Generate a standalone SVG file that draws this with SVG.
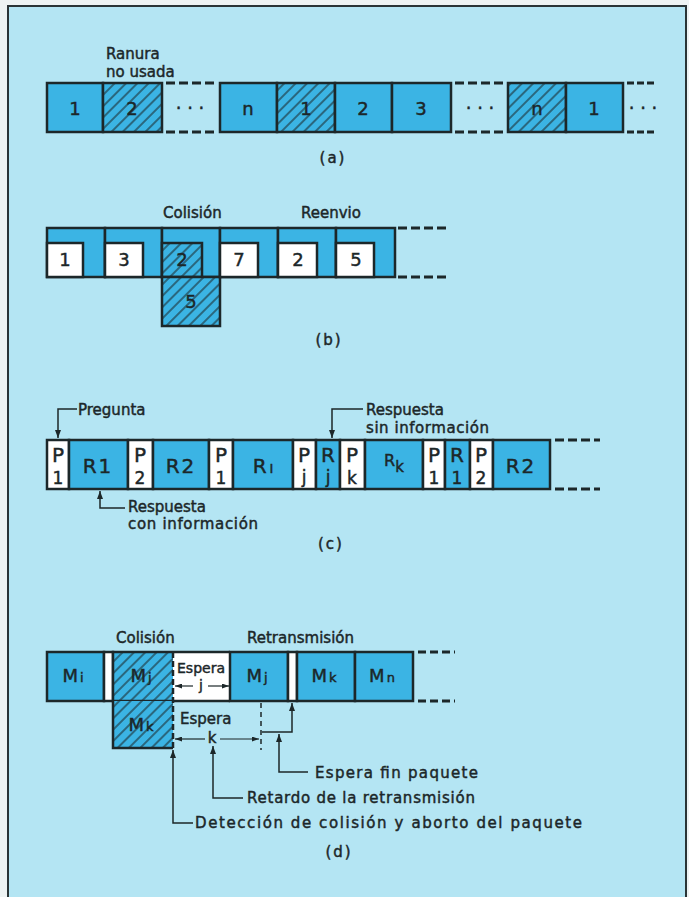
<svg xmlns="http://www.w3.org/2000/svg" width="689" height="897" viewBox="0 0 689 897">
<defs>
<style>
.b{fill:#3bb4e4;stroke:#1c2729;stroke-width:2.5}
.h{fill:url(#hatch);stroke:#1c2729;stroke-width:2.5}
.hf{fill:url(#hatch);stroke:none}
.w{fill:#fff;stroke:#1c2729;stroke-width:2.5}
.wf{fill:#fff;stroke:none}
.ln{fill:none;stroke:#1c2729;stroke-width:2.5}
.dl{fill:none;stroke:#1c2729;stroke-width:2.5;stroke-dasharray:6 3}
.dash{fill:none;stroke:#1c2729;stroke-width:3;stroke-dasharray:9 4}
.dash3{fill:none;stroke:#1c2729;stroke-width:3;stroke-dasharray:7 3}
.con{fill:none;stroke:#1c2729;stroke-width:1.5}
.arr{marker-end:url(#ah)}
.sarr{fill:none;stroke:#1c2729;stroke-width:1.2;marker-end:url(#sah)}
.thin{fill:none;stroke:#1c2729;stroke-width:1.5;stroke-dasharray:5 4}
text{font-family:"DejaVu Sans","Liberation Sans",sans-serif;fill:#1c2729;stroke:#1c2729;stroke-width:0.45}
.lb{font-size:15px}
.num{font-size:18px;text-anchor:middle}
.big{font-size:20px;text-anchor:middle}
.m{font-size:18px;text-anchor:middle}
.lo{font-size:17px;text-anchor:middle}
.sub{font-size:13px}
.cap{font-size:15px;text-anchor:middle;letter-spacing:2px}
</style>
<pattern id="hatch" width="8" height="8" patternUnits="userSpaceOnUse" patternTransform="rotate(45)">
<rect width="8" height="8" fill="#3bb4e4"/>
<line x1="4" y1="0" x2="4" y2="8" stroke="#1c2729" stroke-width="1.1"/>
</pattern>
<marker id="ah" viewBox="0 0 8 6" refX="8" refY="3" markerWidth="8" markerHeight="6" markerUnits="userSpaceOnUse" orient="auto">
<path d="M0,0 L8,3 L0,6 z" fill="#1c2729"/>
</marker>
<marker id="sah" viewBox="0 0 7 5" refX="7" refY="2.5" markerWidth="7" markerHeight="5" markerUnits="userSpaceOnUse" orient="auto">
<path d="M0,0 L7,2.5 L0,5 z" fill="#1c2729"/>
</marker>
</defs>

<rect x="0" y="0" width="689" height="897" fill="#eef3f3"/>
<rect x="8" y="6" width="678" height="900" fill="#b4e5f3" stroke="#2a3436" stroke-width="2"/>

<!-- (a) -->
<g id="a-labels">
<text class="lb" x="106" y="59">Ranura</text>
<text class="lb" x="106" y="77">no usada</text>
<text class="cap" x="333" y="163">(a)</text>
</g>
<g id="a1"><rect class="b" x="47" y="83" width="56" height="49"/><text class="num" x="75" y="115">1</text></g>
<g id="a2"><rect class="h" x="103" y="83" width="59" height="49"/><text class="num" x="132" y="115">2</text></g>
<g id="a-gap1"><text class="num" x="190" y="114">· · ·</text></g>
<g id="a3"><rect class="b" x="220" y="83" width="57" height="49"/><text class="num" x="248" y="115">n</text></g>
<g id="a4"><rect class="h" x="277" y="83" width="58" height="49"/><text class="num" x="306" y="115">1</text></g>
<g id="a5"><rect class="b" x="335" y="83" width="57" height="49"/><text class="num" x="363" y="115">2</text></g>
<g id="a6"><rect class="b" x="392" y="83" width="59" height="49"/><text class="num" x="421" y="115">3</text></g>
<g id="a-gap2"><text class="num" x="480" y="114">· · ·</text></g>
<g id="a7"><rect class="h" x="508" y="83" width="58" height="49"/><text class="num" x="537" y="115">n</text></g>
<g id="a8"><rect class="b" x="566" y="83" width="57" height="49"/><text class="num" x="594" y="115">1</text></g>
<g id="a-gap3"><text class="num" x="643" y="114">· · ·</text></g>

<!-- (b) -->
<g id="b-labels">
<text class="lb" x="163" y="218">Colisión</text>
<text class="lb" x="301" y="218">Reenvio</text>
<text class="cap" x="329" y="345">(b)</text>
</g>
<g id="b1"><rect class="b" x="47" y="228" width="58" height="49"/><rect class="w" x="47" y="243" width="36" height="34"/><text class="num" x="65" y="266">1</text></g>
<g id="b2"><rect class="b" x="105" y="228" width="57" height="49"/><rect class="w" x="105" y="243" width="38" height="34"/><text class="num" x="124" y="266">3</text></g>
<g id="b3"><rect class="b" x="162" y="228" width="58" height="49"/><rect class="h" x="162" y="243" width="40" height="34"/><text class="num" x="182" y="266">2</text></g>
<g id="b3c"><rect class="h" x="162" y="277" width="58" height="49"/><text class="num" x="191" y="308">5</text></g>
<g id="b4"><rect class="b" x="220" y="228" width="58" height="49"/><rect class="w" x="220" y="243" width="38" height="34"/><text class="num" x="239" y="266">7</text></g>
<g id="b5"><rect class="b" x="278" y="228" width="58" height="49"/><rect class="w" x="278" y="243" width="39" height="34"/><text class="num" x="298" y="266">2</text></g>
<g id="b6"><rect class="b" x="336" y="228" width="59" height="49"/><rect class="w" x="336" y="243" width="38" height="34"/><text class="num" x="356" y="266">5</text></g>

<!-- (c) -->
<g id="c-labels">
<text class="lb" x="78" y="415">Pregunta</text>
<text class="lb" x="128" y="512">Respuesta</text>
<text class="lb" x="128" y="529" textLength="130" lengthAdjust="spacing">con información</text>
<text class="lb" x="366" y="415">Respuesta</text>
<text class="lb" x="366" y="433" textLength="123" lengthAdjust="spacing">sin información</text>
<text class="cap" x="331" y="549">(c)</text>
</g>
<g id="c1"><rect class="w" x="47" y="440" width="22" height="49"/><text class="big" x="58" y="462">P</text><text class="lo" x="58" y="484">1</text></g>
<g id="c2"><rect class="b" x="69" y="440" width="59" height="49"/><text class="big" x="98" y="473" letter-spacing="2">R1</text></g>
<g id="c3"><rect class="w" x="128" y="440" width="25" height="49"/><text class="big" x="140" y="462">P</text><text class="lo" x="140" y="484">2</text></g>
<g id="c4"><rect class="b" x="153" y="440" width="56" height="49"/><text class="big" x="181" y="473" letter-spacing="2">R2</text></g>
<g id="c5"><rect class="w" x="209" y="440" width="24" height="49"/><text class="big" x="221" y="462">P</text><text class="lo" x="221" y="484">1</text></g>
<g id="c6"><rect class="b" x="233" y="440" width="60" height="49"/><text class="big" x="263" y="473">R<tspan class="sub" dx="3">I</tspan></text></g>
<g id="c7"><rect class="w" x="293" y="440" width="23" height="49"/><text class="big" x="304" y="462">P</text><text class="lo" x="304" y="483">j</text></g>
<g id="c8"><rect class="b" x="316" y="440" width="24" height="49"/><text class="big" x="328" y="462">R</text><text class="lo" x="328" y="483">j</text></g>
<g id="c9"><rect class="w" x="340" y="440" width="25" height="49"/><text class="big" x="352" y="462">P</text><text class="lo" x="352" y="484">k</text></g>
<g id="c10"><rect class="b" x="365" y="440" width="58" height="49"/><text x="394" y="466" font-size="16" text-anchor="middle">R<tspan font-size="15" dy="6">k</tspan></text></g>
<g id="c11"><rect class="w" x="423" y="440" width="22" height="49"/><text class="big" x="434" y="462">P</text><text class="lo" x="434" y="484">1</text></g>
<g id="c12"><rect class="b" x="445" y="440" width="25" height="49"/><text class="big" x="457" y="462">R</text><text class="lo" x="457" y="484">1</text></g>
<g id="c13"><rect class="w" x="470" y="440" width="23" height="49"/><text class="big" x="481" y="462">P</text><text class="lo" x="481" y="484">2</text></g>
<g id="c14"><rect class="b" x="493" y="440" width="57" height="49"/><text class="big" x="521" y="473" letter-spacing="2">R2</text></g>

<!-- (d) -->
<g id="d-labels">
<text class="lb" x="116" y="643">Colisión</text>
<text class="lb" x="247" y="643">Retransmisión</text>
<text class="lb" x="180" y="724">Espera</text>
<text class="lb" x="212" y="743" text-anchor="middle">k</text>
<text class="lb" x="315" y="778" textLength="163" lengthAdjust="spacing">Espera fin paquete</text>
<text class="lb" x="247" y="803" textLength="228" lengthAdjust="spacing">Retardo de la retransmisión</text>
<text class="lb" x="195" y="828" textLength="387" lengthAdjust="spacing">Detección de colisión y aborto del paquete</text>
<text class="cap" x="339" y="857">(d)</text>
</g>
<g id="d1"><rect class="b" x="47" y="652" width="57" height="49"/><text class="m" x="73" y="682">M<tspan class="sub" dx="2">i</tspan></text></g>
<g id="d2"><rect class="w" x="104" y="652" width="9" height="49"/></g>
<g id="d3"><rect class="hf" x="113" y="652" width="60" height="49"/><path class="ln" d="M173,652H113V701H173"/><text class="m" x="141" y="682">M<tspan class="sub" dx="2">j</tspan></text></g>
<g id="d4"><rect class="hf" x="113" y="701" width="60" height="47"/><path class="ln" d="M113,701V748H173"/><text class="m" x="141" y="731">M<tspan class="sub" dx="2">k</tspan></text></g>
<g id="d5"><rect class="wf" x="173" y="652" width="57" height="49"/><path class="ln" d="M173,652H230M173,701H230"/><text x="177" y="673" font-size="14">Espera</text><text x="201" y="690" font-size="14" text-anchor="middle">j</text></g>
<g id="d6"><rect class="b" x="230" y="652" width="58" height="49"/><text class="m" x="257" y="682">M<tspan class="sub" dx="2">j</tspan></text></g>
<g id="d7"><rect class="w" x="288" y="652" width="9" height="49"/></g>
<g id="d8"><rect class="b" x="297" y="652" width="58" height="49"/><text class="m" x="324" y="682">M<tspan class="sub" dx="2">k</tspan></text></g>
<g id="d9"><rect class="b" x="355" y="652" width="58" height="49"/><text class="m" x="382" y="682">M<tspan class="sub" dx="2">n</tspan></text></g>
<path id="d-colline" class="dl" d="M173,652V748"/>

<!-- connectors -->
<g id="connectors">
<path class="dash" d="M166,83H216M166,132H216"/>
<path class="dash" d="M455,83H505M455,132H505"/>
<path class="dash3" d="M627,83H655M627,132H655"/>
<path class="dash" d="M398,228H446M398,277H446"/>
<path class="dash" d="M555,440H600M555,489H600"/>
<path class="dash" d="M418,652H455M418,701H455" style="stroke-dasharray:8 4"/>

<path class="con arr" d="M77,409H58V438"/>
<path class="con arr" d="M125,508H100V491"/>
<path class="con arr" d="M363,409H332V438"/>

<path class="sarr" d="M193,686H175"/>
<path class="sarr" d="M208,686H229"/>
<path class="sarr" d="M205,739H175"/>
<path class="sarr" d="M220,739H259"/>
<path class="thin" d="M261,703V750"/>
<path class="con arr" d="M262,732H292V703"/>
<path class="con arr" d="M308,772H279V734"/>
<path class="con arr" d="M243,798H213V746"/>
<path class="con arr" d="M193,823H173V750"/>
</g>
</svg>
